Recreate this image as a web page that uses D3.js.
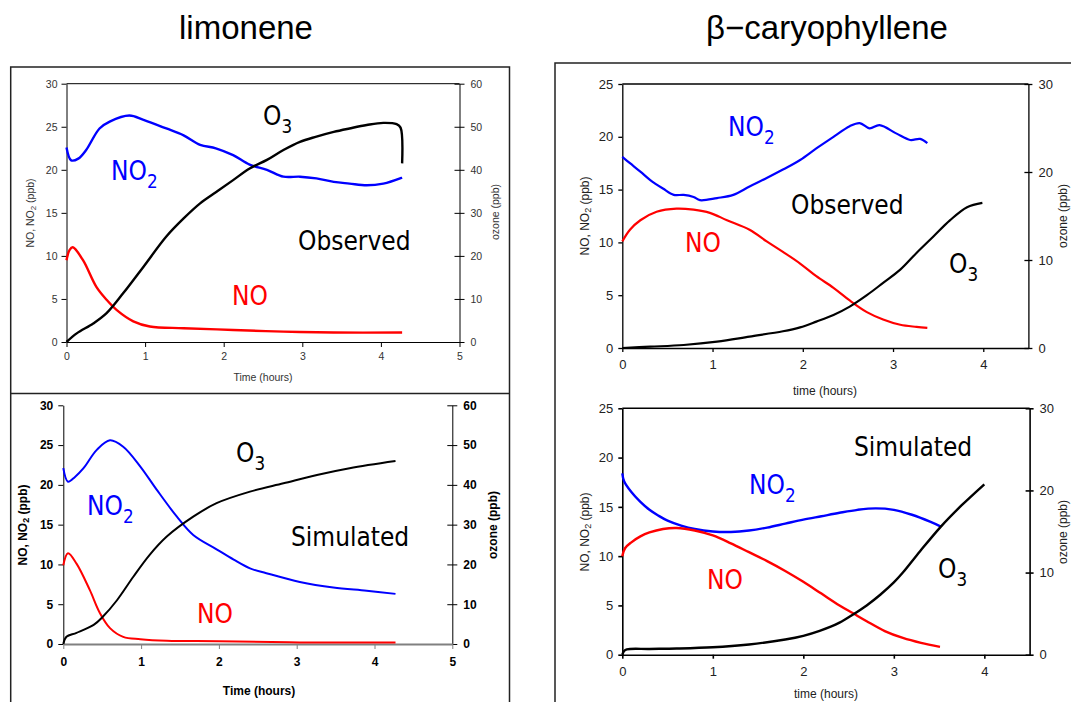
<!DOCTYPE html>
<html><head><meta charset="utf-8">
<script src="https://cdn.jsdelivr.net/npm/d3@7"></script>
<style>body{margin:0;background:#fff}svg{display:block}</style>
</head><body>
<svg id="c" width="1071" height="702"></svg>
<script>
// ---------------- DATA ----------------
const titles = ["limonene", "\u03b2\u2212caryophyllene"];
const limTicksX = [0,1,2,3,4,5];
const limTicksL = [0,5,10,15,20,25,30];
const limTicksR = [0,10,20,30,40,50,60];
const caryTicksX = [0,1,2,3,4];
const caryTicksL = [0,5,10,15,20,25];
const caryTicksR = [0,10,20,30];

// limonene observed [time h, ppb]
const limObsNO2 = [[0,22.6],[0.06,21.1],[0.15,21.3],[0.25,22.3],[0.42,24.8],[0.55,25.6],[0.8,26.3],[0.98,25.8],[1.27,24.8],[1.49,24.0],[1.7,22.9],[1.9,22.5],[2.12,21.7],[2.33,20.6],[2.55,20.0],[2.76,19.2],[2.97,19.2],[3.18,19.0],[3.4,18.6],[3.6,18.4],[3.82,18.2],[4.03,18.4],[4.27,19.1]];
const limObsNO  = [[0,9.5],[0.04,10.7],[0.08,11.0],[0.21,9.5],[0.38,6.4],[0.51,4.9],[0.64,3.7],[0.85,2.4],[1.06,1.8],[1.49,1.6],[2.12,1.4],[2.76,1.2],[3.4,1.1],[4.27,1.1]];
const limObsO3  = [[0,0],[0.13,2.0],[0.34,4.3],[0.51,6.7],[0.72,11.3],[0.98,17.5],[1.27,24.5],[1.49,28.7],[1.7,32.2],[1.91,34.9],[2.12,37.6],[2.33,40.3],[2.55,42.3],[2.76,44.6],[2.97,46.5],[3.18,47.7],[3.4,48.8],[3.6,49.6],[3.82,50.4],[4.03,50.9],[4.2,50.6],[4.25,49.8],[4.27,41.5]];
// limonene simulated
const limSimNO2 = [[0,22.1],[0.06,20.4],[0.15,21.0],[0.26,22.1],[0.43,24.4],[0.6,25.6],[0.77,24.8],[0.99,22.3],[1.2,19.4],[1.46,16.0],[1.67,13.7],[1.97,11.9],[2.19,10.6],[2.4,9.5],[2.61,8.9],[3.04,7.8],[3.47,7.1],[3.9,6.7],[4.27,6.3]];
const limSimNO  = [[0,9.9],[0.06,11.4],[0.17,10.1],[0.34,6.8],[0.47,3.9],[0.6,2.0],[0.77,0.9],[0.99,0.6],[1.33,0.4],[2.0,0.35],[3.04,0.2],[4.27,0.2]];
const limSimO3  = [[0,0],[0.04,1.8],[0.17,2.8],[0.39,4.8],[0.51,6.9],[0.69,11.0],[0.9,16.9],[1.11,22.4],[1.33,27.0],[1.67,32.0],[1.97,35.4],[2.4,38.3],[2.83,40.4],[3.26,42.5],[3.68,44.2],[4.27,46.0]];
// beta-caryophyllene observed
const caryObsNO2 = [[0,18.1],[0.085,17.5],[0.2,16.7],[0.31,15.9],[0.45,15.1],[0.57,14.5],[0.68,14.5],[0.79,14.3],[0.86,14.0],[1.05,14.2],[1.23,14.5],[1.41,15.3],[1.6,16.1],[1.78,16.9],[1.97,17.8],[2.15,18.9],[2.34,20.0],[2.52,21.0],[2.63,21.3],[2.74,20.8],[2.85,21.1],[3.04,20.3],[3.19,19.7],[3.3,19.8],[3.38,19.4]];
const caryObsNO  = [[0,10.1],[0.085,11.2],[0.2,12.1],[0.38,12.9],[0.6,13.2],[0.79,13.1],[0.97,12.8],[1.16,12.1],[1.41,11.2],[1.6,10.1],[1.78,9.1],[1.97,8.0],[2.15,6.8],[2.34,5.7],[2.52,4.5],[2.71,3.4],[2.89,2.7],[3.08,2.2],[3.26,2.0],[3.38,1.9]];
const caryObsO3  = [[0,0],[0.31,0.15],[0.68,0.34],[1.05,0.72],[1.41,1.3],[1.78,1.9],[1.97,2.35],[2.15,3.0],[2.34,3.75],[2.52,4.7],[2.71,6.0],[2.89,7.4],[3.08,8.9],[3.26,10.8],[3.45,12.7],[3.63,14.5],[3.82,16.0],[3.99,16.5]];
// beta-caryophyllene simulated
const carySimNO2 = [[0,18.4],[0.02,17.6],[0.1,16.5],[0.2,15.5],[0.3,14.7],[0.4,14.1],[0.5,13.6],[0.65,13.1],[0.8,12.75],[1.0,12.5],[1.2,12.45],[1.4,12.6],[1.6,12.9],[1.8,13.3],[2.0,13.7],[2.2,14.05],[2.4,14.4],[2.6,14.7],[2.8,14.85],[3.0,14.7],[3.2,14.2],[3.4,13.5],[3.52,13.0]];
const carySimNO  = [[0,10.0],[0.03,10.8],[0.1,11.4],[0.2,12.0],[0.3,12.4],[0.45,12.75],[0.6,12.85],[0.8,12.6],[1.0,12.1],[1.2,11.3],[1.4,10.4],[1.6,9.5],[1.8,8.5],[2.0,7.4],[2.2,6.2],[2.4,5.0],[2.55,4.2],[2.7,3.4],[2.9,2.4],[3.1,1.7],[3.3,1.2],[3.51,0.8]];
const carySimO3  = [[0,0],[0.02,0.45],[0.05,0.65],[0.3,0.7],[0.6,0.75],[1.0,0.9],[1.4,1.25],[1.8,1.85],[2.0,2.3],[2.18,2.9],[2.4,3.9],[2.55,4.9],[2.7,6.0],[2.85,7.3],[3.0,8.8],[3.1,10.0],[3.29,12.6],[3.52,15.6],[3.75,18.2],[4.0,20.75]];

// ---------------- DRAW ----------------
const svg = d3.select("#c");
const LBL = "'DejaVu Sans Condensed','DejaVu Sans',sans-serif";
const ARIAL = "'Liberation Sans',Arial,sans-serif";

// titles
svg.append("text").attr("x",246).attr("y",39).attr("text-anchor","middle")
  .style("font-family",ARIAL).style("font-size","33px").text(titles[0]);
svg.append("text").attr("x",827).attr("y",39).attr("text-anchor","middle")
  .style("font-family",ARIAL).style("font-size","33px").text(titles[1]);

// frames
const fr = svg.append("g").attr("stroke","#222").attr("stroke-width",1.5).attr("fill","none");
fr.append("path").attr("d","M10.7,702V67H509.5V702");
fr.append("path").attr("d","M10.7,393.5H509.5");
fr.append("path").attr("d","M1071,63H555V702");

function richText(g, x, y, parts, opts){
  const t = g.append("text").attr("x",x).attr("y",y)
    .style("font-family",opts.family).style("font-size",opts.size+"px")
    .style("font-weight",opts.weight||"normal").attr("fill",opts.fill||"#000");
  if(opts.anchor) t.attr("text-anchor",opts.anchor);
  if(opts.rotate) t.attr("transform",`rotate(${opts.rotate},${x},${y})`);
  const shift = (opts.subDy||0.28)*opts.size;
  let lowered = false;
  parts.forEach(p=>{
    if(typeof p === "string"){
      const s = t.append("tspan").text(p);
      if(lowered){ s.attr("dy",-shift); lowered=false; }
    } else {
      t.append("tspan").attr("dy",shift).style("font-size",(opts.subScale||0.7)*opts.size+"px").text(p.sub);
      lowered = true;
    }
  });
  return t;
}

function panel(c){
  const g = svg.append("g");
  const x = d3.scaleLinear().domain(c.xDomain).range([c.left,c.right]);
  const yL = d3.scaleLinear().domain([0,c.yLmax]).range([c.bottom,c.top]);
  const yR = d3.scaleLinear().domain([0,c.yRmax]).range([c.bottom,c.top]);

  if(c.box) g.append("line").attr("x1",c.left).attr("x2",c.right).attr("y1",c.top).attr("y2",c.top)
      .attr("stroke","#000").attr("stroke-width",c.axisW);

  const styleAxis = (a)=>{
    a.selectAll("text").style("font-family",ARIAL).style("font-size",c.tickSize+"px")
      .style("font-weight",c.weight||"normal").attr("fill",c.tickFill);
  };
  const ga = g.append("g").attr("transform",`translate(${c.left},0)`)
    .call(d3.axisLeft(yL).tickValues(c.ticksL).tickSize(c.tickLen).tickSizeOuter(0).tickPadding(c.padL).tickFormat(d3.format("d")));
  ga.select(".domain").attr("stroke","#000").attr("stroke-width",c.axisW);
  ga.selectAll(".tick line").attr("stroke","#000").attr("stroke-width",c.axisW);
  styleAxis(ga);
  const gr = g.append("g").attr("transform",`translate(${c.right},0)`)
    .call(d3.axisRight(yR).tickValues(c.ticksR).tickSize(c.tickLen).tickSizeOuter(0).tickPadding(c.padR).tickFormat(d3.format("d")));
  gr.select(".domain").attr("stroke","#000").attr("stroke-width",c.axisW);
  gr.selectAll(".tick line").attr("x1",-c.tickLen).attr("stroke","#000").attr("stroke-width",c.axisW);
  styleAxis(gr);
  const gb = g.append("g").attr("transform",`translate(0,${c.bottom})`)
    .call(d3.axisBottom(x).tickValues(c.ticksX).tickSize(c.tickLen).tickSizeOuter(0).tickPadding(c.padX).tickFormat(d3.format("d")));
  gb.select(".domain").attr("stroke",c.xAxisColor||"#000").attr("stroke-width",c.xAxisW||c.axisW);
  gb.selectAll(".tick line").attr("stroke",c.xAxisColor||"#000").attr("stroke-width",c.axisW);
  styleAxis(gb);

  const af = {family:ARIAL,size:c.titleSize,weight:c.weight,fill:c.tickFill,anchor:"middle",subScale:0.75,subDy:0.2};
  richText(g, c.xTitle[0], c.xTitle[1], [c.xLabel], af);
  richText(g, c.lTitle[0], c.lTitle[1], ["NO, NO",{sub:"2"}," (ppb)"], Object.assign({rotate:-90},af));
  richText(g, c.rTitle[0], c.rTitle[1], ["ozone (ppb)"], Object.assign({rotate:-90},af));

  const curve = d3.curveCatmullRom.alpha(0.5);
  const lineL = d3.line().x(d=>x(d[0])).y(d=>yL(d[1])).curve(curve);
  const lineR = d3.line().x(d=>x(d[0])).y(d=>yR(d[1])).curve(curve);
  g.append("path").datum(c.no2).attr("d",lineL).attr("fill","none").attr("stroke","#0000ff").attr("stroke-width",c.lw).attr("stroke-linejoin","round");
  g.append("path").datum(c.no).attr("d",lineL).attr("fill","none").attr("stroke","#ff0000").attr("stroke-width",c.lw).attr("stroke-linejoin","round");
  g.append("path").datum(c.o3).attr("d",lineR).attr("fill","none").attr("stroke","#000").attr("stroke-width",c.lw).attr("stroke-linejoin","round");

  const lf = {family:LBL,size:26,subScale:0.72,subDy:0.3};
  richText(g, c.lab.o3[0], c.lab.o3[1], ["O",{sub:"3"}], Object.assign({},lf,{fill:"#000"}));
  richText(g, c.lab.no2[0], c.lab.no2[1], ["NO",{sub:"2"}], Object.assign({},lf,{fill:"#0000ff"}));
  richText(g, c.lab.no[0], c.lab.no[1], ["NO"], Object.assign({},lf,{fill:"#ff0000"}));
  richText(g, c.lab.kind[0], c.lab.kind[1], [c.kind], Object.assign({},lf,{fill:"#000"}));
}

panel({left:66.5,right:459.5,top:83.7,bottom:342,xDomain:[0,5],yLmax:30,yRmax:60,
  ticksX:limTicksX,ticksL:limTicksL,ticksR:limTicksR,tickLen:5,padL:4,padR:6,padX:6,
  tickSize:10.5,tickFill:"#333",titleSize:10.5,axisW:1,box:true,lw:2.4,
  xLabel:"Time (hours)",xTitle:[263,381],lTitle:[34,213],rTitle:[499,212],
  no2:limObsNO2,no:limObsNO,o3:limObsO3,kind:"Observed",
  lab:{o3:[263,125],no2:[111,180],no:[232,305],kind:[298,250]}});

panel({left:63.3,right:452.3,top:405.3,bottom:644,xDomain:[0,5],yLmax:30,yRmax:60,
  ticksX:limTicksX,ticksL:limTicksL,ticksR:limTicksR,tickLen:5,padL:5,padR:6,padX:8,
  tickSize:12,tickFill:"#000",weight:"bold",titleSize:12,axisW:1,box:false,lw:2,
  xAxisColor:"#808080",xAxisW:2,
  xLabel:"Time (hours)",xTitle:[259,695],lTitle:[27,525],rTitle:[497,525],
  no2:limSimNO2,no:limSimNO,o3:limSimO3,kind:"Simulated",
  lab:{o3:[236,462],no2:[87,515],no:[197,623],kind:[291,546]}});

panel({left:622.3,right:1028.4,top:84,bottom:348,xDomain:[0,4.5],yLmax:25,yRmax:30,
  ticksX:caryTicksX,ticksL:caryTicksL,ticksR:caryTicksR,tickLen:4,padL:5,padR:6,padX:8,
  tickSize:13,tickFill:"#222",titleSize:12,axisW:1.3,box:true,lw:2.2,
  xLabel:"time (hours)",xTitle:[825,395],lTitle:[589,216],rTitle:[1067,216],
  no2:caryObsNO2,no:caryObsNO,o3:caryObsO3,kind:"Observed",
  lab:{o3:[949,273],no2:[728,136],no:[685,252],kind:[791,214]}});

panel({left:622.3,right:1029.6,top:408.3,bottom:654.7,xDomain:[0,4.5],yLmax:25,yRmax:30,
  ticksX:caryTicksX,ticksL:caryTicksL,ticksR:caryTicksR,tickLen:4,padL:5,padR:6,padX:8,
  tickSize:13,tickFill:"#222",titleSize:12,axisW:1.6,box:true,lw:2.4,
  xLabel:"time (hours)",xTitle:[826,698],lTitle:[589,532],rTitle:[1067,532],
  no2:carySimNO2,no:carySimNO,o3:carySimO3,kind:"Simulated",
  lab:{o3:[938,578],no2:[749,494],no:[707,589],kind:[854,456]}});
</script>
</body></html>
